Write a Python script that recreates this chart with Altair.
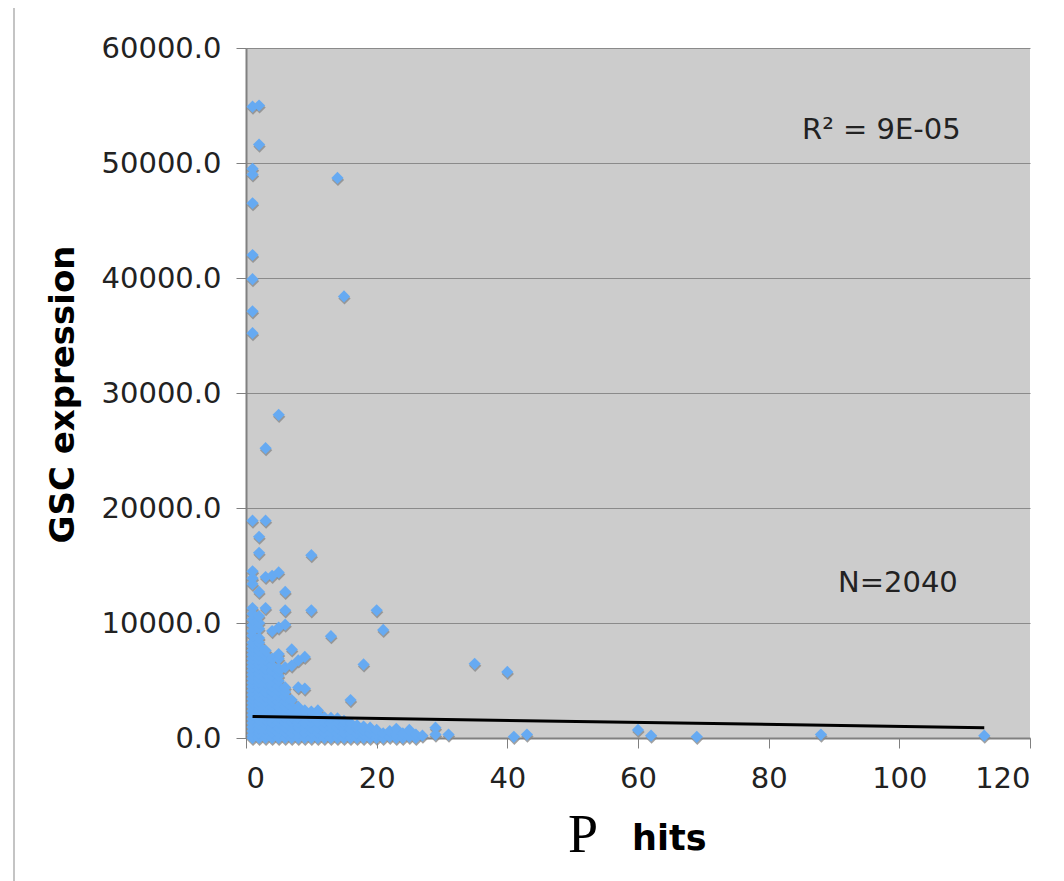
import altair as alt
import pandas as pd

# GSC expression values observed at each number of P hits
expr_by_hits = {
    1: [0, 250, 600, 950, 1300, 1650, 2000, 2350, 2700, 3050, 3400, 3750, 4100, 4450, 4800, 5150, 5500,
        5850, 6200, 6550, 6900, 7250, 7600, 7950, 8300, 8900, 9300, 9800, 10300, 10800, 11300, 13400,
        13900, 14500, 18900, 35200, 37100, 39900, 42000, 46500, 49000, 49500, 54900],
    2: [0, 400, 800, 1200, 1600, 2000, 2400, 2800, 3200, 3600, 4000, 4400, 4800, 5200, 5600, 6000, 6400,
        6800, 7200, 7600, 8000, 8300, 8700, 9500, 10000, 10600, 12700, 16100, 17500, 51600, 55000],
    3: [0, 400, 800, 1200, 1600, 2000, 2400, 2800, 3200, 3600, 4000, 4400, 4800, 5200, 5600, 6000, 6400,
        6800, 7200, 7600, 11300, 14000, 18900, 25200],
    4: [0, 450, 900, 1350, 1800, 2250, 2700, 3150, 3600, 4050, 4500, 4950, 5400, 5850, 6300, 6900, 9300, 14100],
    5: [0, 450, 900, 1350, 1800, 2250, 2700, 3150, 3600, 4050, 4500, 4950, 5400, 5800, 6050, 6900, 7300,
        9600, 14400, 28100],
    6: [0, 450, 900, 1350, 1800, 2250, 2700, 3150, 3600, 4000, 4400, 6150, 9850, 11100, 12700],
    7: [0, 450, 900, 1350, 1800, 2250, 2700, 3300, 6300, 7700],
    8: [0, 450, 900, 1350, 1800, 2250, 2700, 4400, 6750],
    9: [0, 450, 900, 1350, 1800, 2400, 4300, 7050],
    10: [0, 450, 900, 1350, 1800, 2300, 11100, 15900],
    11: [0, 450, 900, 1400, 2000, 2400],
    12: [0, 450, 900, 1400, 1800],
    13: [0, 450, 900, 1300, 1750, 8850],
    14: [0, 400, 850, 1300, 1700, 48700],
    15: [0, 400, 800, 1200, 1500, 38400],
    16: [0, 400, 800, 1300, 3300],
    17: [0, 400, 800, 1100],
    18: [0, 350, 700, 1000, 6400],
    19: [0, 400, 900],
    20: [0, 300, 700, 11100],
    21: [0, 400, 9400],
    22: [100, 600],
    23: [0, 300, 800],
    24: [0, 400],
    25: [100, 700],
    26: [0, 300],
    27: [200],
    29: [300, 900],
    31: [300],
    35: [6450],
    40: [5750],
    41: [100],
    43: [300],
    60: [700],
    62: [200],
    69: [100],
    88: [300],
    113: [200],
}

trend_hits = [1, 113]
trend_expr = [1870, 890]

x_ticks = [0, 20, 40, 60, 80, 100, 120]
y_ticks = [0, 10000, 20000, 30000, 40000, 50000, 60000]

rows = [{"hits": h, "expr": v} for h, vals in expr_by_hits.items() for v in vals]
df = pd.DataFrame(rows)
trend_df = pd.DataFrame({"hits": trend_hits, "expr": trend_expr})

FONT = "DejaVu Sans"
FS = 29

x_enc = alt.X("hits:Q", scale=alt.Scale(domain=[0, 120], nice=False),
              axis=alt.Axis(values=x_ticks, format="d", title=None, grid=False,
                            labelFontSize=FS, labelFont=FONT, labelColor="#222222",
                            tickSize=10, labelPadding=16, domainColor="#808080",
                            domainWidth=2, tickColor="#808080"))
y_enc = alt.Y("expr:Q", scale=alt.Scale(domain=[0, 60000], nice=False),
              axis=alt.Axis(values=y_ticks, format=".1f", title="GSC expression",
                            titleFontSize=34, titleFont=FONT, titleFontWeight="bold",
                            titleColor="#000000", titleX=-183, titleY=346,
                            titleAlign="center", titleBaseline="middle", titleAngle=-90,
                            labelFontSize=FS, labelFont=FONT, labelColor="#222222",
                            tickSize=10, labelPadding=15, grid=True, gridColor="#8a8a8a",
                            gridWidth=1, domainColor="#808080", domainWidth=2,
                            tickColor="#808080"))

shadow = alt.Chart(df).mark_point(shape="diamond", filled=True, size=150, color="#8a8a8a",
                                  opacity=0.8, yOffset=2, xOffset=0.5).encode(x=x_enc, y=y_enc)
points = alt.Chart(df).mark_point(shape="diamond", filled=True, size=150, color="#66aaf2",
                                  opacity=1).encode(x=x_enc, y=y_enc)
trend = alt.Chart(trend_df).mark_line(color="#000000", strokeWidth=3).encode(x="hits:Q", y="expr:Q")

r2 = alt.Chart().mark_text(text="R² = 9E-05", font=FONT, fontSize=FS, align="left",
                           baseline="middle", color="#222222").encode(
    x=alt.value(556), y=alt.value(82))
n_txt = alt.Chart().mark_text(text="N=2040", font=FONT, fontSize=FS, align="left",
                              baseline="middle", color="#222222").encode(
    x=alt.value(592), y=alt.value(535))
p_txt = alt.Chart().mark_text(text="P", font="Liberation Serif", fontSize=54, align="left",
                              baseline="alphabetic", color="#000000").encode(
    x=alt.value(322), y=alt.value(804))
hits_txt = alt.Chart().mark_text(text="hits", font=FONT, fontSize=35, fontWeight="bold",
                                 align="left", baseline="alphabetic", color="#000000").encode(
    x=alt.value(386), y=alt.value(802))
left_rule = alt.Chart().mark_rule(color="#c4c4c4", strokeWidth=2).encode(
    x=alt.value(-232), y=alt.value(-40), y2=alt.value(833))

chart = alt.layer(shadow, points, trend, r2, n_txt, p_txt, hits_txt, left_rule).properties(
    width=784, height=690, autosize="none",
    padding={"left": 246, "top": 48, "right": 34, "bottom": 143},
    background="#ffffff",
).configure_view(fill="#cccccc", strokeWidth=0)

chart.save("out.html", embed_options={"renderer": "svg", "actions": False})
